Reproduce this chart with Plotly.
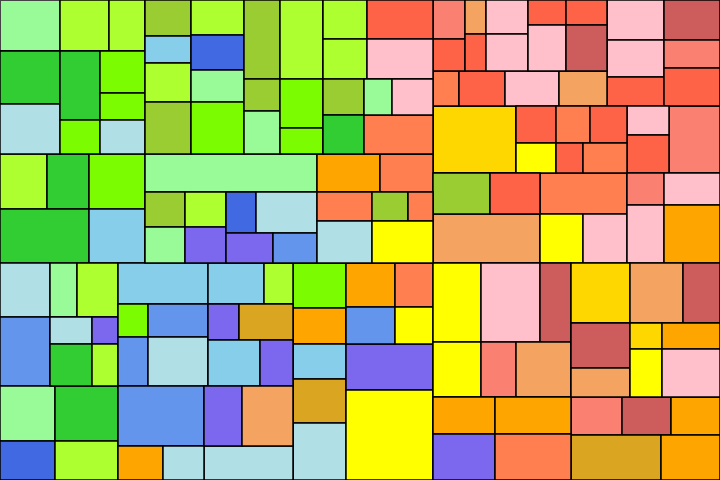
import plotly.graph_objects as go

# Treemap cells: (colour, area value). Nested lists are groups; split
# direction alternates by depth (slice-dice packing).
TL = [
    [
        [("palegreen", 3060), ("greenyellow", 2499), ("greenyellow", 1836)],
        [[("limegreen", 3180), ("powderblue", 3000)],
         [("limegreen", 2760), ("lawngreen", 1360)],
         [("lawngreen", 1890), ("lawngreen", 1215), ("powderblue", 1530)]],
        [("greenyellow", 2585), ("limegreen", 2310), ("lawngreen", 3080)],
        [("limegreen", 4806), ("skyblue", 3024)],
    ],
    [
        [
            [("yellowgreen", 1656), ("skyblue", 1242), ("greenyellow", 1794), ("yellowgreen", 2392)],
            [("greenyellow", 1855), ("royalblue", 1855), ("palegreen", 1696), ("lawngreen", 2756)],
            [("yellowgreen", 2844), ("yellowgreen", 1152), ("palegreen", 1548)],
            [("greenyellow", 3397), ("lawngreen", 2107), ("lawngreen", 1118)],
            [
                [[("greenyellow", 1716), ("greenyellow", 1760)],
                 [("tomato", 2574), ("pink", 2640)]],
                [[("yellowgreen", 1476), ("limegreen", 1599)],
                 [[("palegreen", 1008), ("pink", 1476)], ("coral", 2691)]],
            ],
        ],
        [("palegreen", 6536), ("orange", 2394), ("coral", 2014)],
        [
            [("yellowgreen", 1400), ("palegreen", 1440)],
            [("greenyellow", 1435), ("mediumslateblue", 1476)],
            [[("royalblue", 1230), ("powderblue", 2501)],
             [("mediumslateblue", 1410), ("cornflowerblue", 1320)]],
            [[("coral", 1595), ("yellowgreen", 1044), ("coral", 725)],
             [("powderblue", 2310), ("yellow", 2562)]],
        ],
    ],
]

BL = [
    [
        [("powderblue", 2700), ("palegreen", 1458), ("greenyellow", 2214)],
        [("cornflowerblue", 3450),
         [("powderblue", 1134), ("limegreen", 1764)],
         [("mediumslateblue", 702), ("greenyellow", 1092)]],
        [("palegreen", 3025), ("limegreen", 3465)],
        [("royalblue", 2145), ("greenyellow", 2457)],
    ],
    [
        [("skyblue", 3690), ("skyblue", 2296), ("greenyellow", 1189)],
        [[("lawngreen", 990), ("cornflowerblue", 1470)],
         [("cornflowerblue", 1980), ("powderblue", 2940)],
         [[("mediumslateblue", 1116), ("goldenrod", 1944)],
          [("skyblue", 2392), ("mediumslateblue", 1518)]]],
        [[("cornflowerblue", 5160), [("orange", 1530), ("powderblue", 1394)]],
         [[("mediumslateblue", 2280), ("sandybrown", 3060)], ("powderblue", 3026)]],
    ],
    [("lawngreen", 2385), ("orange", 1908), ("skyblue", 1855), ("goldenrod", 2332), ("powderblue", 3021)],
    [
        [("orange", 2156), ("coral", 1672)],
        [("cornflowerblue", 1813), ("yellow", 1406)],
        ("mediumslateblue", 4002),
        ("yellow", 7830),
    ],
]

TR_TOP = [
    [
        [[("salmon", 1248), ("tomato", 1024)],
         [("sandybrown", 714), ("tomato", 777)],
         [("pink", 1428), ("pink", 1554)],
         [[("tomato", 950), ("tomato", 1025)],
          [("pink", 1748), ("indianred", 1886)]]],
        [("coral", 910), ("tomato", 1610), ("pink", 1890), ("sandybrown", 1680)],
    ],
    [("pink", 2280), ("pink", 2109), ("tomato", 1653)],
    [("indianred", 2240), ("salmon", 1568), ("tomato", 2128)],
]

TR_MID = [
    ("gold", 5561),
    [[("tomato", 1480), ("coral", 1258), ("tomato", 1369)],
     [("yellow", 1200), ("tomato", 810), ("coral", 1320)]],
    [("pink", 1218), ("tomato", 1596)],
    ("salmon", 3417),
]

TR_BOT = [
    [[("yellowgreen", 2337), ("tomato", 2050)], ("sandybrown", 5243)],
    [("coral", 3567), [("yellow", 2107), ("pink", 2156)]],
    [[("salmon", 1184), ("pink", 1792)], [("pink", 2146), ("orange", 3248)]],
]

BR = [
    [
        [("yellow", 3792), ("pink", 4661), ("indianred", 2449)],
        [("yellow", 2640), ("salmon", 1925), ("sandybrown", 3025)],
        [[("orange", 2294), ("mediumslateblue", 2852)],
         [("orange", 2812), ("coral", 3496)]],
    ],
    [
        [("gold", 3540), ("sandybrown", 3180), ("indianred", 2220)],
        [[("indianred", 2655), ("sandybrown", 1711)],
         [[("gold", 832), ("orange", 1508)], [("yellow", 1536), ("pink", 2784)]]],
        [("salmon", 1938), ("indianred", 1862), ("orange", 1862)],
        [("goldenrod", 4050), ("orange", 2655)],
    ],
]

TREE = [[TL, BL], [TR_TOP, TR_MID, TR_BOT, BR]]

ids, parents, values, colors = [], [], [], []


def add(node, parent, path):
    nid = path
    ids.append(nid)
    parents.append(parent)
    if isinstance(node, tuple):
        colors.append(node[0])
        values.append(node[1])
    else:
        colors.append("white")
        values.append(0)
        for i, child in enumerate(node):
            add(child, nid, f"{path}.{i}")


add(TREE, "", "r")

fig = go.Figure(go.Treemap(
    ids=ids, labels=ids, parents=parents, values=values,
    branchvalues="remainder", sort=False,
    tiling=dict(packing="slice-dice", pad=0),
    marker=dict(colors=colors, line=dict(color="black", width=1.5),
                pad=dict(t=0, l=0, r=0, b=0), depthfade=False),
    opacity=1,
    textinfo="none", hoverinfo="skip",
    pathbar=dict(visible=False), maxdepth=-1,
))
fig.update_layout(width=720, height=480, margin=dict(l=0, r=0, t=0, b=0),
                  paper_bgcolor="white")
fig.write_html("out.html",
               config={"displayModeBar": False},
               post_script="document.body.style.margin='0';"
                           "document.body.style.overflow='hidden';")
